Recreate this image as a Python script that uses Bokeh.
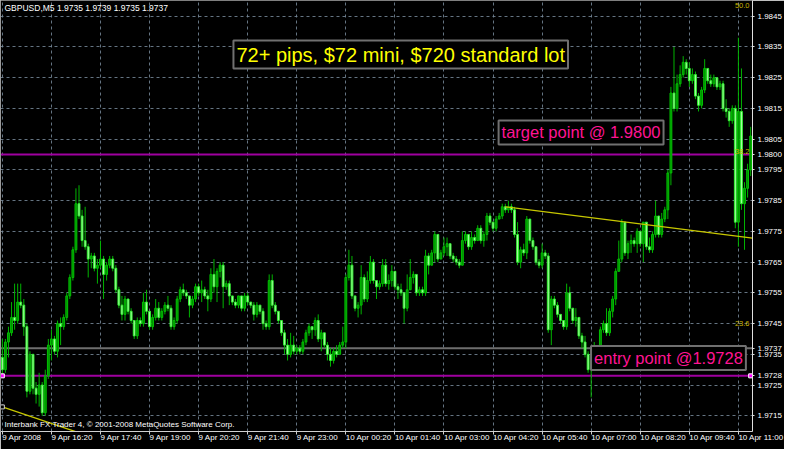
from bokeh.plotting import figure
from bokeh.models import Range1d, FixedTicker, LinearAxis, Label, PrintfTickFormatter, ColumnDataSource
from bokeh.embed import file_html
from bokeh.resources import INLINE

# ---------------- data ----------------
HEADER = "GBPUSD,M5  1.9735 1.9739 1.9735 1.9737"
FOOTER = "Interbank FX Trader 4, \u00a9 2001-2008 MetaQuotes Software Corp."

FIRST_OPEN = 1.9734
CLOSE = [
    1.9730, 1.9739, 1.9742, 1.9747, 1.9746, 1.9752, 1.9751, 1.9744, 1.9723, 1.9735,
    1.9724, 1.9722, 1.9725, 1.9716, 1.9728, 1.9738, 1.9740, 1.9736, 1.9745, 1.9744,
    1.9747, 1.9754, 1.9760, 1.9769, 1.9784, 1.9780, 1.9772, 1.9770, 1.9766, 1.9767,
    1.9763, 1.9764, 1.9766, 1.9761, 1.9764, 1.9766, 1.9763, 1.9756, 1.9751, 1.9748,
    1.9753, 1.9749, 1.9746, 1.9741, 1.9746, 1.9745, 1.9752, 1.9749, 1.9744, 1.9747,
    1.9750, 1.9747, 1.9749, 1.9751, 1.9750, 1.9744, 1.9746, 1.9753, 1.9756, 1.9755,
    1.9754, 1.9751, 1.9753, 1.9757, 1.9755, 1.9756, 1.9754, 1.9753, 1.9761, 1.9757,
    1.9762, 1.9764, 1.9757, 1.9758, 1.9754, 1.9752, 1.9751, 1.9754, 1.9750, 1.9754,
    1.9752, 1.9751, 1.9748, 1.9751, 1.9749, 1.9745, 1.9744, 1.9759, 1.9751, 1.9749,
    1.9746, 1.9742, 1.9738, 1.9735, 1.9738, 1.9736, 1.9737, 1.9736, 1.9739, 1.9742,
    1.9744, 1.9743, 1.9746, 1.9740, 1.9742, 1.9738, 1.9735, 1.9733, 1.9736, 1.9735,
    1.9738, 1.9739, 1.9760, 1.9764, 1.9754, 1.9750, 1.9751, 1.9760, 1.9753, 1.9759,
    1.9765, 1.9759, 1.9757, 1.9758, 1.9764, 1.9758, 1.9759, 1.9762, 1.9757, 1.9756,
    1.9755, 1.9750, 1.9756, 1.9760, 1.9761, 1.9755, 1.9756, 1.9755, 1.9767, 1.9764,
    1.9768, 1.9774, 1.9766, 1.9768, 1.9770, 1.9771, 1.9767, 1.9766, 1.9765, 1.9764,
    1.9772, 1.9774, 1.9770, 1.9773, 1.9772, 1.9776, 1.9772, 1.9774, 1.9780, 1.9778,
    1.9776, 1.9779, 1.9780, 1.9783, 1.9782, 1.9783, 1.9782, 1.9774, 1.9765, 1.9769,
    1.9768, 1.9779, 1.9772, 1.9770, 1.9765, 1.9764, 1.9768, 1.9767, 1.9743, 1.9753,
    1.9751, 1.9748, 1.9746, 1.9744, 1.9755, 1.9750, 1.9746, 1.9747, 1.9741, 1.9739,
    1.9735, 1.9730, 1.9733, 1.9737, 1.9735, 1.9743, 1.9745, 1.9742, 1.9749, 1.9753,
    1.9762, 1.9766, 1.9778, 1.9768, 1.9771, 1.9772, 1.9771, 1.9775, 1.9771, 1.9778,
    1.9770, 1.9769, 1.9774, 1.9780, 1.9774, 1.9779, 1.9782, 1.9794, 1.9820, 1.9815,
    1.9823, 1.9826, 1.9830, 1.9828, 1.9824, 1.9826, 1.9819, 1.9816, 1.9821, 1.9828,
    1.9824, 1.9823, 1.9825, 1.9822, 1.9823, 1.9815, 1.9814, 1.9811, 1.9815, 1.9778,
    1.9814, 1.9784, 1.9789, 1.9795, 1.9806,
]
HIGH = [
    1.9740, 1.9740, 1.9744, 1.9752, 1.9758, 1.9758, 1.9758, 1.9753, 1.9745, 1.9736,
    1.9735, 1.9726, 1.9729, 1.9726, 1.9730, 1.9740, 1.9743, 1.9741, 1.9746, 1.9747,
    1.9748, 1.9755, 1.9761, 1.9770, 1.9789, 1.9790, 1.9782, 1.9783, 1.9771, 1.9768,
    1.9768, 1.9766, 1.9772, 1.9767, 1.9765, 1.9767, 1.9767, 1.9764, 1.9757, 1.9754,
    1.9754, 1.9753, 1.9750, 1.9746, 1.9747, 1.9747, 1.9755, 1.9756, 1.9749, 1.9748,
    1.9753, 1.9752, 1.9750, 1.9752, 1.9754, 1.9751, 1.9747, 1.9754, 1.9757, 1.9758,
    1.9756, 1.9754, 1.9754, 1.9758, 1.9758, 1.9759, 1.9757, 1.9756, 1.9763, 1.9766,
    1.9763, 1.9765, 1.9765, 1.9759, 1.9759, 1.9754, 1.9753, 1.9754, 1.9754, 1.9755,
    1.9755, 1.9752, 1.9752, 1.9752, 1.9751, 1.9750, 1.9746, 1.9761, 1.9761, 1.9752,
    1.9749, 1.9746, 1.9743, 1.9740, 1.9742, 1.9741, 1.9738, 1.9738, 1.9740, 1.9743,
    1.9745, 1.9744, 1.9747, 1.9748, 1.9743, 1.9741, 1.9739, 1.9737, 1.9737, 1.9738,
    1.9739, 1.9744, 1.9761, 1.9769, 1.9767, 1.9754, 1.9752, 1.9764, 1.9761, 1.9762,
    1.9767, 1.9766, 1.9759, 1.9759, 1.9766, 1.9766, 1.9761, 1.9764, 1.9762, 1.9758,
    1.9758, 1.9755, 1.9761, 1.9766, 1.9762, 1.9761, 1.9757, 1.9757, 1.9769, 1.9768,
    1.9769, 1.9775, 1.9774, 1.9769, 1.9773, 1.9773, 1.9771, 1.9768, 1.9767, 1.9766,
    1.9775, 1.9775, 1.9774, 1.9775, 1.9774, 1.9777, 1.9777, 1.9775, 1.9781, 1.9781,
    1.9778, 1.9780, 1.9781, 1.9784, 1.9784, 1.9785, 1.9784, 1.9783, 1.9778, 1.9770,
    1.9771, 1.9780, 1.9779, 1.9773, 1.9770, 1.9766, 1.9771, 1.9769, 1.9768, 1.9754,
    1.9754, 1.9752, 1.9748, 1.9746, 1.9758, 1.9757, 1.9750, 1.9750, 1.9746, 1.9742,
    1.9741, 1.9736, 1.9734, 1.9739, 1.9737, 1.9744, 1.9746, 1.9750, 1.9750, 1.9754,
    1.9763, 1.9772, 1.9779, 1.9778, 1.9772, 1.9774, 1.9773, 1.9776, 1.9775, 1.9778,
    1.9777, 1.9773, 1.9775, 1.9785, 1.9780, 1.9781, 1.9783, 1.9795, 1.9822, 1.9835,
    1.9826, 1.9829, 1.9832, 1.9831, 1.9830, 1.9828, 1.9827, 1.9820, 1.9822, 1.9831,
    1.9828, 1.9826, 1.9826, 1.9825, 1.9824, 1.9824, 1.9818, 1.9815, 1.9816, 1.9816,
    1.9838, 1.9828, 1.9791, 1.9797, 1.9809,
]
LOW = [
    1.9728, 1.9729, 1.9734, 1.9741, 1.9743, 1.9745, 1.9750, 1.9741, 1.9721, 1.9722,
    1.9722, 1.9719, 1.9718, 1.9715, 1.9715, 1.9727, 1.9733, 1.9735, 1.9734, 1.9738,
    1.9743, 1.9746, 1.9753, 1.9759, 1.9768, 1.9779, 1.9770, 1.9769, 1.9760, 1.9763,
    1.9762, 1.9758, 1.9763, 1.9753, 1.9759, 1.9763, 1.9762, 1.9755, 1.9750, 1.9746,
    1.9746, 1.9748, 1.9745, 1.9740, 1.9740, 1.9744, 1.9744, 1.9748, 1.9743, 1.9743,
    1.9746, 1.9746, 1.9746, 1.9748, 1.9749, 1.9743, 1.9743, 1.9745, 1.9752, 1.9754,
    1.9753, 1.9747, 1.9750, 1.9752, 1.9754, 1.9752, 1.9753, 1.9749, 1.9752, 1.9755,
    1.9752, 1.9760, 1.9750, 1.9756, 1.9751, 1.9751, 1.9750, 1.9750, 1.9749, 1.9749,
    1.9751, 1.9750, 1.9746, 1.9747, 1.9748, 1.9743, 1.9743, 1.9743, 1.9750, 1.9748,
    1.9745, 1.9741, 1.9735, 1.9733, 1.9734, 1.9735, 1.9735, 1.9735, 1.9735, 1.9738,
    1.9741, 1.9740, 1.9741, 1.9739, 1.9736, 1.9737, 1.9733, 1.9731, 1.9732, 1.9734,
    1.9735, 1.9737, 1.9737, 1.9759, 1.9753, 1.9749, 1.9747, 1.9748, 1.9752, 1.9752,
    1.9758, 1.9758, 1.9753, 1.9756, 1.9757, 1.9757, 1.9756, 1.9757, 1.9756, 1.9753,
    1.9754, 1.9745, 1.9749, 1.9756, 1.9758, 1.9754, 1.9754, 1.9754, 1.9754, 1.9761,
    1.9764, 1.9765, 1.9765, 1.9766, 1.9767, 1.9767, 1.9766, 1.9765, 1.9764, 1.9763,
    1.9764, 1.9771, 1.9769, 1.9769, 1.9771, 1.9772, 1.9771, 1.9770, 1.9772, 1.9777,
    1.9775, 1.9775, 1.9779, 1.9779, 1.9781, 1.9781, 1.9781, 1.9773, 1.9764, 1.9763,
    1.9767, 1.9766, 1.9771, 1.9769, 1.9764, 1.9763, 1.9763, 1.9766, 1.9742, 1.9738,
    1.9750, 1.9747, 1.9745, 1.9743, 1.9743, 1.9749, 1.9745, 1.9744, 1.9740, 1.9737,
    1.9734, 1.9729, 1.9721, 1.9731, 1.9733, 1.9734, 1.9742, 1.9741, 1.9741, 1.9747,
    1.9751, 1.9762, 1.9765, 1.9767, 1.9766, 1.9768, 1.9770, 1.9768, 1.9770, 1.9765,
    1.9769, 1.9768, 1.9768, 1.9773, 1.9773, 1.9773, 1.9778, 1.9779, 1.9790, 1.9814,
    1.9814, 1.9822, 1.9825, 1.9826, 1.9822, 1.9823, 1.9818, 1.9814, 1.9815, 1.9820,
    1.9823, 1.9822, 1.9822, 1.9821, 1.9821, 1.9814, 1.9812, 1.9809, 1.9810, 1.9776,
    1.9770, 1.9782, 1.9769, 1.9786, 1.9793,
]

X_TICK_BARS = [0, 16, 32, 48, 64, 80, 96, 112, 128, 144, 160, 176, 192, 208, 224, 240]
X_TICK_LABELS = ["9 Apr 2008", "9 Apr 16:20", "9 Apr 17:40", "9 Apr 19:00", "9 Apr 20:20",
                 "9 Apr 21:40", "9 Apr 23:00", "10 Apr 00:20", "10 Apr 01:40", "10 Apr 03:00",
                 "10 Apr 04:20", "10 Apr 05:40", "10 Apr 07:00", "10 Apr 08:20", "10 Apr 09:40",
                 "10 Apr 11:00"]
Y_TICKS = [1.9715, 1.9725, 1.9735, 1.9745, 1.9755, 1.9765, 1.9775, 1.9785,
           1.9795, 1.9805, 1.9815, 1.9825, 1.9835, 1.9845]
Y_MIN, Y_MAX = 1.97099, 1.98501

TARGET = 1.9800
ENTRY = 1.9728
BID = 1.9737
TREND_A_X, TREND_A_Y = [164, 244.6], [1.9783, 1.97728]
TREND_B_X, TREND_B_Y = [0, 30], [1.97179, 1.97078]
FIB_TEXT = ["50.0", "38.2", "23.6"]
FIB_PRICE = [1.98475, 1.98003, 1.97443]

NOTE_MAIN = "72+ pips, $72 mini, $720 standard lot"
NOTE_TARGET = "target point @ 1.9800"
NOTE_ENTRY = "entry point @1.9728"
NOTE_MAIN_AT = (129.9, 1.98325)
NOTE_TARGET_AT = (188.7, 1.98072)
NOTE_ENTRY_AT = (217.2, 1.97338)

# ---------------- build ----------------
n = len(CLOSE)
OPEN = [FIRST_OPEN] + CLOSE[:-1]
xs = list(range(n))
up = [c >= o for o, c in zip(OPEN, CLOSE)]
src = ColumnDataSource(dict(
    x=xs, high=HIGH, low=LOW,
    top=[max(o, c) for o, c in zip(OPEN, CLOSE)],
    bottom=[min(o, c) for o, c in zip(OPEN, CLOSE)],
    fill=["#008a00" if u else "#b8ffb0" for u in up],
    line=["#00c000" if u else "#30ee30" for u in up],
))

X_START, X_END = -0.6, n - 0.4

p = figure(width=784, height=449, x_range=Range1d(X_START, X_END),
           y_range=Range1d(Y_MIN, Y_MAX), output_backend="svg", toolbar_location=None,
           y_axis_location="right", background_fill_color="black",
           border_fill_color="black", min_border_left=0, min_border_top=0,
           min_border_right=0, min_border_bottom=0)
p.outline_line_color = None

FONT = "Liberation Sans"
SMALL = "8px"

# axes
p.xaxis.ticker = FixedTicker(ticks=X_TICK_BARS)
p.xaxis.major_label_overrides = {t: l for t, l in zip(X_TICK_BARS, X_TICK_LABELS)}
p.xaxis.major_label_orientation = -1e-9
p.xaxis.major_label_text_color = "white"
p.xaxis.major_label_text_font = FONT
p.xaxis.major_label_text_font_size = SMALL
p.xaxis.major_label_standoff = 3
p.xaxis.axis_line_color = "#d0d0d0"
p.xaxis.major_tick_line_color = "#d0d0d0"
p.xaxis.major_tick_out = 3
p.xaxis.major_tick_in = 0
p.xaxis.minor_tick_line_color = None

# price scale: regular levels plus the three marked prices (target, entry, bid)
p.yaxis.ticker = FixedTicker(ticks=Y_TICKS + [TARGET, ENTRY, BID])
p.yaxis.formatter = PrintfTickFormatter(format="%.4f")
p.yaxis.major_label_text_color = "white"
p.yaxis.major_label_text_font = FONT
p.yaxis.major_label_text_font_size = SMALL
p.yaxis.major_label_standoff = 3
p.yaxis.axis_line_color = "#e0e0e0"
p.yaxis.major_tick_line_color = "#e0e0e0"
p.yaxis.major_tick_out = 2
p.yaxis.major_tick_in = 0
p.yaxis.minor_tick_line_color = None

left = LinearAxis(major_label_text_font_size="0px", major_tick_line_color=None,
                  minor_tick_line_color=None, major_label_standoff=0,
                  axis_line_color="#9a9a9a", ticker=FixedTicker(ticks=[]))
p.add_layout(left, "left")

p.xgrid.ticker = FixedTicker(ticks=X_TICK_BARS)
p.ygrid.ticker = FixedTicker(ticks=Y_TICKS)
for g in (p.xgrid, p.ygrid):
    g.grid_line_color = "#778899"
    g.grid_line_dash = "3 3"
    g.grid_line_alpha = 0.85

# horizontal level lines
p.line(x=[X_START, X_END], y=[BID, BID], line_color="#6e6e6e", line_width=2)
p.line(x=[X_START, X_END], y=[TARGET, TARGET], line_color="#a000a0", line_width=2)
p.line(x=[X_START, X_END], y=[ENTRY, ENTRY], line_color="#a000a0", line_width=2)

# candles
p.segment(x0="x", y0="low", x1="x", y1="high", source=src, line_color="#00b400", line_width=1)
p.vbar(x="x", top="top", bottom="bottom", width=0.6, source=src,
       fill_color="fill", line_color="line", line_width=1)

# trend lines
p.line(TREND_A_X, TREND_A_Y, line_color="#c8c800", line_width=1.3)
p.line(TREND_B_X, TREND_B_Y, line_color="#c8c800", line_width=1.3)
p.scatter([TREND_B_X[0]], [TREND_B_Y[0]], marker="square", size=4, fill_color="black",
          line_color="#d0d0d0")
p.scatter([0, n - 1], [ENTRY, ENTRY], marker="square", size=4, fill_color="#ff00ff",
          line_color="white")

# fib texts
for t, y in zip(FIB_TEXT, FIB_PRICE):
    p.add_layout(Label(x=X_END, y=y, x_offset=-3, text=t, text_align="right",
                       text_baseline="bottom", text_color="#c8b400", text_font=FONT,
                       text_font_size="7.5px"))

# notes
p.add_layout(Label(x=NOTE_MAIN_AT[0], y=NOTE_MAIN_AT[1], text=NOTE_MAIN, text_align="center",
                   text_baseline="middle", text_color="#ffff00", text_font=FONT,
                   text_font_size="20px", background_fill_color="black",
                   border_line_color="#707070", border_line_width=2, padding=3))
p.add_layout(Label(x=NOTE_TARGET_AT[0], y=NOTE_TARGET_AT[1], text=NOTE_TARGET,
                   text_align="center", text_baseline="middle", text_color="#ff1493",
                   text_font=FONT, text_font_size="16.5px", background_fill_color="black",
                   border_line_color="#707070", border_line_width=2, padding=3))
p.add_layout(Label(x=NOTE_ENTRY_AT[0], y=NOTE_ENTRY_AT[1], text=NOTE_ENTRY,
                   text_align="center", text_baseline="middle", text_color="#ff1493",
                   text_font=FONT, text_font_size="16.5px", background_fill_color="black",
                   border_line_color="#707070", border_line_width=2, padding=3))

# header / footer
p.add_layout(Label(x=X_START, y=Y_MAX, x_offset=4, y_offset=-2, text=HEADER,
                   text_align="left", text_baseline="top", text_color="white",
                   text_font=FONT, text_font_size="8.5px"))
p.add_layout(Label(x=X_START, y=Y_MIN, x_offset=4, y_offset=3, text=FOOTER,
                   text_align="left", text_baseline="bottom", text_color="white",
                   text_font=FONT, text_font_size=SMALL))

open("out.html", "w").write(file_html(p, INLINE))
